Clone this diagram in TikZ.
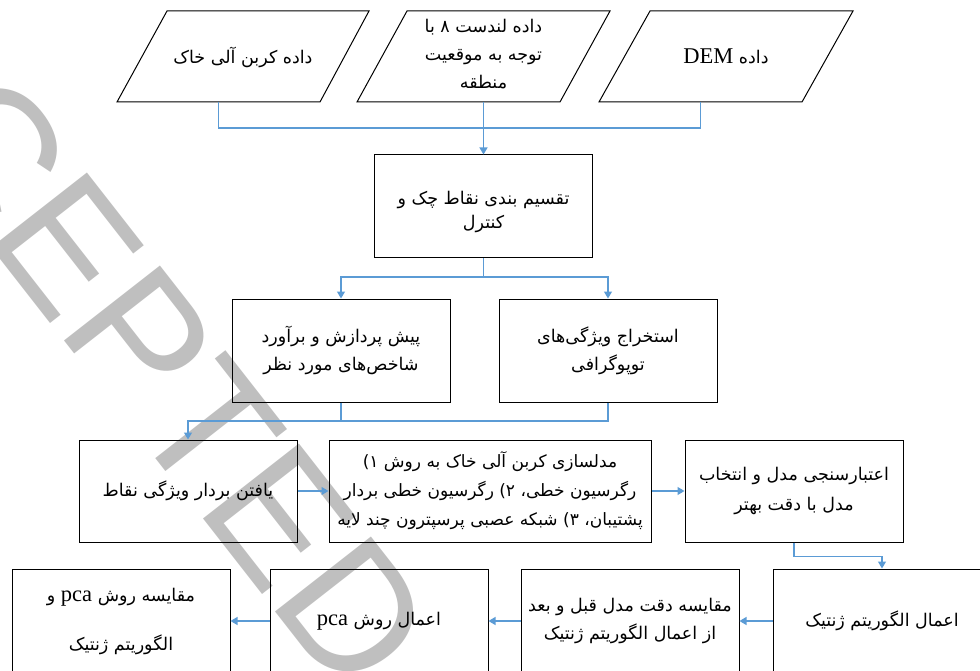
\documentclass[tikz,border=0pt]{standalone}
\usepackage{fontspec}
\setmainfont{Liberation Serif}
\newfontfamily\fa[Script=Arabic]{DejaVu Sans}
\newfontfamily\wmfont{Liberation Sans}
\TeXXeTstate=1
\usetikzlibrary{arrows.meta}
\definecolor{lc}{HTML}{5B9BD5}
\newcommand\myR[1]{\beginR #1\endR}
\newcommand\myL[1]{\beginL{\rmfamily\fontsize{22.5}{28}\selectfont #1}\endL}
\begin{document}
\begin{tikzpicture}[x=1pt,y=-1pt,
  txt/.style={font=\fa\fontsize{17.5}{28}\selectfont, align=center, text=black, inner sep=0pt},
  box/.style={draw=black, line width=1pt, minimum width=218pt, minimum height=102pt, inner sep=0pt},
  paraline/.style={draw=black, line width=1pt, line join=miter},
  conn/.style={draw=lc, line width=1.3pt},
  arr/.style={conn, -{Triangle[length=7pt,width=8pt]}},
  wm/.style={font=\wmfont\fontsize{177}{177}\selectfont, text=gray!50, rotate=-52, inner sep=0pt}
]
\useasboundingbox (0,0) rectangle (980,671);
\clip (0,0) rectangle (980,671);
\node[wm] (water) at (97,284) {ACCEPTED};

% input parallelograms
\draw[paraline] (117,102) -- (167,11) -- (369,11) -- (320,102) -- cycle;
\draw[paraline] (357,102) -- (407,11) -- (610,11) -- (560,102) -- cycle;
\draw[paraline] (599,102) -- (650,11) -- (853,11) -- (802,102) -- cycle;
\node[txt] (p1) at (243,57) {\myR{داده کربن آلی خاک}};
\node[txt] (p2) at (483.5,54) {\myR{داده لندست ۸ با}\\\myR{توجه به موقعیت}\\\myR{منطقه}};
\node[txt] (p3) at (726,56) {\myR{داده \myL{DEM}}};
\coordinate (p1b) at (218.5,102);
\coordinate (p2b) at (483.5,102);
\coordinate (p3b) at (700.5,102);

% boxes
\node[box, minimum height=103pt] (b1) at (483.5,206.5) {};
\node[txt, font=\fa\fontsize{17.5}{24}\selectfont] (t1) at (483.5,212) {\myR{تقسیم بندی نقاط چک و}\\\myR{کنترل}};
\node[box, minimum height=103pt, txt] (b2) at (341,350.5) {\myR{پیش پردازش و برآورد}\\\myR{شاخص‌های مورد نظر}};
\node[box, minimum height=103pt, txt] (b3) at (608,350.5) {\myR{استخراج ویژگی‌های}\\\myR{توپوگرافی}};

\node[box, txt] (b4) at (188,491) {\myR{یافتن بردار ویژگی نقاط}};
\node[box, txt, font=\fa\fontsize{17}{29}\selectfont, minimum width=322pt] (b5) at (490,491) {\myR{مدلسازی کربن آلی خاک  به روش ۱)}\\\myR{رگرسیون خطی، ۲) رگرسیون خطی بردار}\\\myR{پشتیبان، ۳) شبکه عصبی پرسپترون چند لایه}};
\node[box, txt, font=\fa\fontsize{17.5}{30}\selectfont] (b6) at (794,491) {\myR{اعتبارسنجی مدل و انتخاب}\\\myR{مدل با دقت بهتر}};

\node[box, txt, minimum height=104pt] (b7) at (882,621) {\myR{اعمال الگوریتم ژنتیک}};
\node[box, txt, minimum height=104pt] (b8) at (630,621) {\myR{مقایسه دقت مدل قبل و بعد}\\\myR{از اعمال الگوریتم ژنتیک}};
\node[box, txt, minimum height=104pt] (b9) at (379,621) {\myR{اعمال روش \myL{pca}}};
\node[box, txt, minimum height=104pt] (b10) at (121,621) {\myR{مقایسه روش  \myL{pca} و}\\[21pt]\myR{الگوریتم ژنتیک}};

\coordinate (j1) at (483.5,128);
\coordinate (j2) at (483.5,277);
\coordinate (j3) at (341,421);

\draw[conn] (p1b) |- (j1);
\draw[conn] (p3b) |- (j1);
\draw[arr] (p2b) -- (b1.north);
\draw[conn] (b1.south) -- (j2);
\draw[arr] (j2) -| (b2.north);
\draw[arr] (j2) -| (b3.north);
\draw[conn] (b3.south) |- (j3);
\draw[arr] (b2.south) -- (j3) -| (b4.north);
\draw[arr] (b4.east) -- (b5.west);
\draw[arr] (b5.east) -- (b6.west);
\draw[arr] (b6.south) -- ++(0,14) -| (b7.north);
\draw[arr] (b7.west) -- (b8.east);
\draw[arr] (b8.west) -- (b9.east);
\draw[arr] (b9.west) -- (b10.east);
\end{tikzpicture}
\end{document}
